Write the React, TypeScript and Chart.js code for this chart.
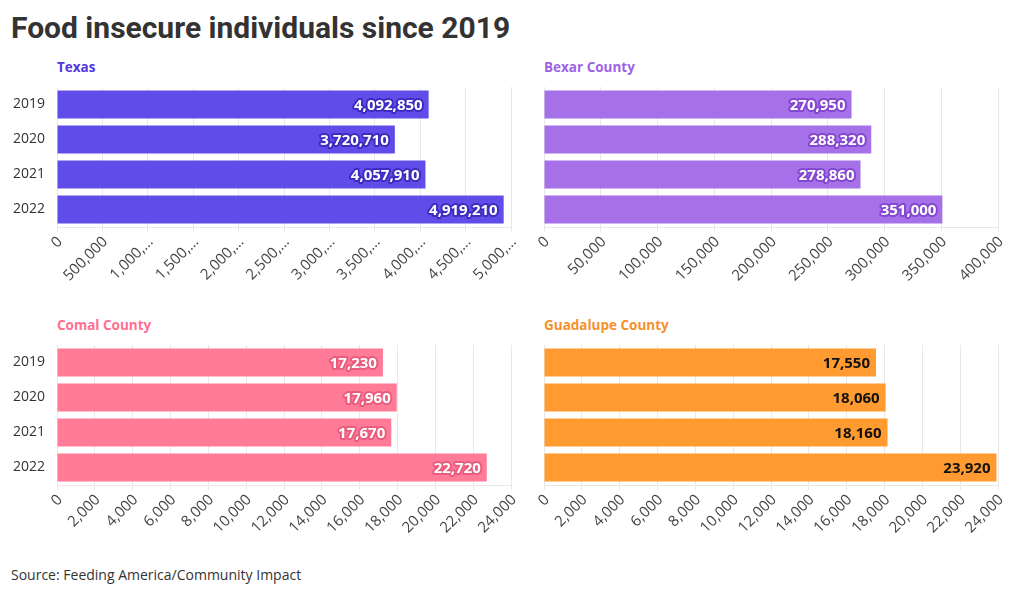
import React, { useEffect, useRef } from "react";
import { Chart, registerables } from "chart.js";
Chart.register(...registerables);

const years = ["2019", "2020", "2021", "2022"];
const texasValues = [4092850, 3720710, 4057910, 4919210];
const bexarValues = [270950, 288320, 278860, 351000];
const comalValues = [17230, 17960, 17670, 22720];
const guadalupeValues = [17550, 18060, 18160, 23920];

const texasAxis = { max: 5000000, step: 500000 };
const bexarAxis = { max: 400000, step: 50000 };
const comalAxis = { max: 24000, step: 2000 };
const guadalupeAxis = { max: 24000, step: 2000 };

const FONT = "'Open Sans', 'Noto Sans', sans-serif";
const TITLE_FONT = "Roboto, 'Open Sans', sans-serif";

const fmt = (v: number) => v.toLocaleString("en-US");
const truncate = (s: string) => (s.length > 7 ? s.slice(0, 6) + "…" : s);

type PanelProps = {
  title: string;
  titleColor: string;
  values: number[];
  color: string;
  halo: string;
  textColor: string;
  axis: { max: number; step: number };
  left: number;
  top: number;
  showYears: boolean;
};

const CW = 530;
const CH = 217;

function Panel(p: PanelProps) {
  const ref = useRef<HTMLCanvasElement>(null);
  useEffect(() => {
    if (!ref.current) return;
    const labelPlugin = {
      id: "barLabels",
      afterDatasetsDraw(chart: any) {
        const ctx = chart.ctx;
        const meta = chart.getDatasetMeta(0);
        ctx.save();
        ctx.font = `bold 15px ${FONT}`;
        ctx.textAlign = "right";
        ctx.textBaseline = "middle";
        ctx.lineJoin = "round";
        meta.data.forEach((el: any, i: number) => {
          const t = fmt(p.values[i]);
          const x = el.x - 6;
          const y = el.y + 1;
          ctx.strokeStyle = p.halo;
          ctx.lineWidth = 4;
          ctx.strokeText(t, x, y);
          ctx.fillStyle = p.textColor;
          ctx.fillText(t, x, y);
        });
        ctx.restore();
      },
    };
    const chart = new Chart(ref.current, {
      type: "bar",
      data: {
        labels: years,
        datasets: [
          {
            data: p.values,
            backgroundColor: p.color,
            barPercentage: 0.8,
            categoryPercentage: 1.0,
          },
        ],
      },
      options: {
        indexAxis: "y",
        animation: false,
        responsive: false,
        maintainAspectRatio: false,
        layout: { padding: { top: 7, right: CW - 511, left: 0, bottom: 0 } },
        plugins: { legend: { display: false }, tooltip: { enabled: false } },
        scales: {
          x: {
            min: 0,
            max: p.axis.max,
            grid: { color: "#e8e8e8", tickLength: 5, drawOnChartArea: true },
            border: { color: "#e8e8e8" },
            ticks: {
              stepSize: p.axis.step,
              minRotation: 45,
              maxRotation: 45,
              autoSkip: false,
              color: "#444",
              padding: 1,
              labelOffset: 3,
              font: { family: FONT, size: 15 },
              callback: (v: any) => truncate(fmt(Number(v))),
            },
            afterFit: (s: any) => {
              s.height = 70;
              s.paddingLeft = 0;
              s.paddingRight = 0;
              s.paddingTop = 0;
              s.paddingBottom = 0;
            },
          },
          y: {
            grid: { display: false, drawTicks: false, tickLength: 0 },
            border: { display: false },
            ticks: {
              color: p.showYears ? "#333" : "rgba(0,0,0,0)",
              padding: 12,
              font: { family: FONT, size: 14 },
            },
            afterFit: (s: any) => {
              s.width = 57;
              s.paddingTop = 0;
              s.paddingBottom = 0;
              s.paddingLeft = 0;
              s.paddingRight = 0;
            },
          },
        },
      },
      plugins: [labelPlugin],
    });
    return () => chart.destroy();
  }, []);
  return (
    <>
      <div
        style={{
          position: "absolute",
          left: p.left + 57,
          top: p.top - 22,
          font: `bold 13.5px ${FONT}`,
          color: p.titleColor,
          whiteSpace: "nowrap",
        }}
      >
        {p.title}
      </div>
      <canvas
        ref={ref}
        width={CW}
        height={CH}
        style={{ position: "absolute", left: p.left, top: p.top, width: CW, height: CH }}
      />
    </>
  );
}

export default function App() {
  return (
    <div style={{ position: "absolute", left: 0, top: 0, width: 1020, height: 594, background: "#fff", fontFamily: FONT }}>
      <div
        style={{
          position: "absolute",
          left: 11,
          top: 10,
          font: `bold 30px ${TITLE_FONT}`,
          color: "#333",
          whiteSpace: "nowrap",
        }}
      >
        Food insecure individuals since 2019
      </div>
      <Panel title="Texas" titleColor="#5537dd" values={texasValues} color="#604ce8" halo="#3f2bc0" textColor="#fff" axis={texasAxis} left={0} top={80} showYears={true} />
      <Panel title="Bexar County" titleColor="#9d63e3" values={bexarValues} color="#a570e8" halo="#8447d0" textColor="#fff" axis={bexarAxis} left={487} top={80} showYears={false} />
      <Panel title="Comal County" titleColor="#ff6f90" values={comalValues} color="#ff7b98" halo="#ea5c7d" textColor="#fff" axis={comalAxis} left={0} top={338} showYears={true} />
      <Panel title="Guadalupe County" titleColor="#f5912c" values={guadalupeValues} color="#ff9b30" halo="#ff9b30" textColor="#111" axis={guadalupeAxis} left={487} top={338} showYears={false} />
      <div
        style={{
          position: "absolute",
          left: 11,
          top: 565,
          font: `14px ${FONT}`,
          color: "#333",
          whiteSpace: "nowrap",
        }}
      >
        Source: Feeding America/Community Impact
      </div>
    </div>
  );
}
